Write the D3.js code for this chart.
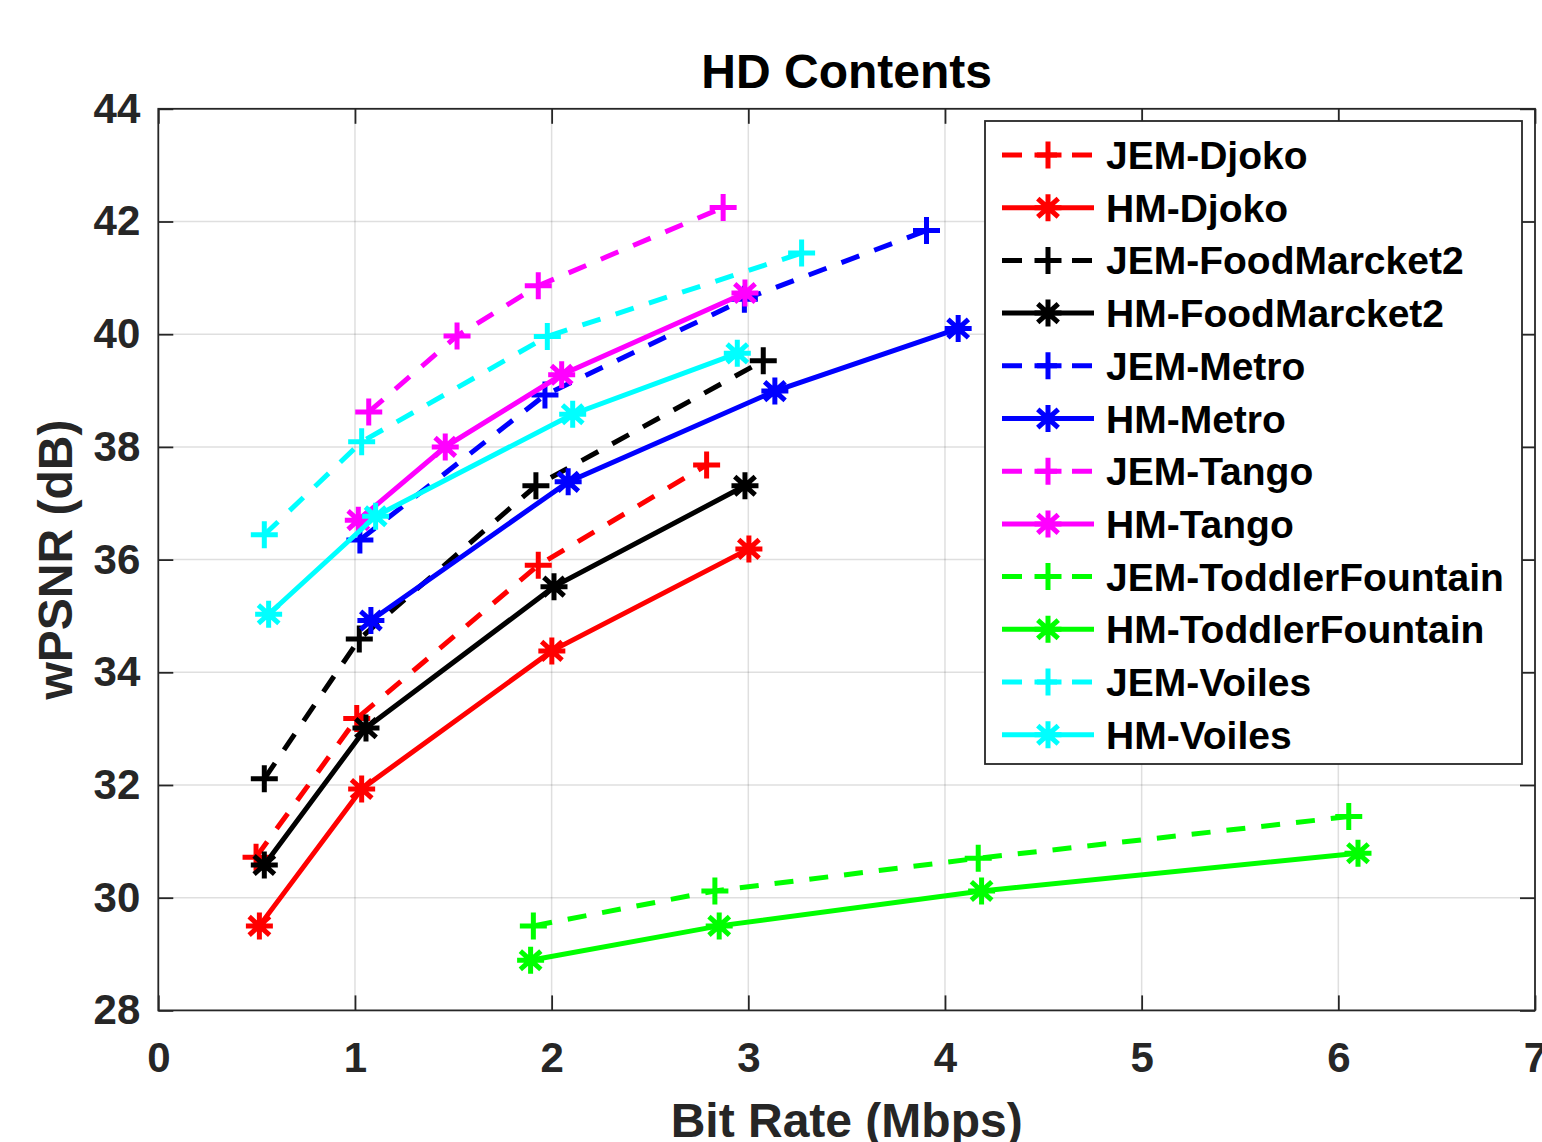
<!DOCTYPE html>
<html>
<head>
<meta charset="utf-8">
<script src="https://cdn.jsdelivr.net/npm/d3@7"></script>
<style>
  html, body { margin: 0; padding: 0; background: #fff; }
  svg { display: block; }
  text { font-family: "Liberation Sans", Arial, Helvetica, sans-serif; font-weight: bold; }
</style>
</head>
<body>
<svg id="chart" width="1542" height="1142"></svg>
<script>
// ---------------- DATA ----------------
const chartTitle = "HD Contents";
const xLabel = "Bit Rate (Mbps)";
const yLabel = "wPSNR (dB)";
const xTicks = [0, 1, 2, 3, 4, 5, 6, 7];
const yTicks = [28, 30, 32, 34, 36, 38, 40, 42, 44];

const seriesNames = [
  "JEM-Djoko", "HM-Djoko", "JEM-FoodMarcket2", "HM-FoodMarcket2",
  "JEM-Metro", "HM-Metro", "JEM-Tango", "HM-Tango",
  "JEM-ToddlerFountain", "HM-ToddlerFountain", "JEM-Voiles", "HM-Voiles"
];

const rateJEMDjoko = [0.497, 1.009, 1.932, 2.788];
const psnrJEMDjoko = [30.72, 33.18, 35.90, 37.68];
const rateHMDjoko = [0.514, 1.034, 2.001, 3.003];
const psnrHMDjoko = [29.50, 31.93, 34.38, 36.19];

const rateJEMFood = [0.539, 1.022, 1.920, 3.076];
const psnrJEMFood = [32.11, 34.59, 37.31, 39.53];
const rateHMFood = [0.539, 1.056, 2.012, 2.983];
const psnrHMFood = [30.58, 33.01, 35.52, 37.31];

const rateJEMMetro = [1.025, 1.966, 2.980, 3.906];
const psnrJEMMetro = [36.35, 38.92, 40.62, 41.84];
const rateHMMetro = [1.081, 2.084, 3.135, 4.067];
const psnrHMMetro = [34.92, 37.38, 38.99, 40.10];

const rateJEMTango = [1.070, 1.519, 1.932, 2.872];
const psnrJEMTango = [38.62, 39.97, 40.86, 42.25];
const rateHMTango = [1.017, 1.459, 2.051, 2.983];
const psnrHMTango = [36.70, 38.00, 39.28, 40.73];

const rateJEMToddler = [1.907, 2.830, 4.169, 6.053];
const psnrJEMToddler = [29.50, 30.12, 30.70, 31.44];
const rateHMToddler = [1.893, 2.852, 4.186, 6.100];
const psnrHMToddler = [28.89, 29.50, 30.12, 30.79];

const rateJEMVoiles = [0.539, 1.034, 1.978, 3.271];
const psnrJEMVoiles = [36.44, 38.09, 39.96, 41.44];
const rateHMVoiles = [0.561, 1.105, 2.107, 2.944];
const psnrHMVoiles = [35.03, 36.77, 38.58, 39.66];

const seriesRates = [rateJEMDjoko, rateHMDjoko, rateJEMFood, rateHMFood, rateJEMMetro, rateHMMetro,
                     rateJEMTango, rateHMTango, rateJEMToddler, rateHMToddler, rateJEMVoiles, rateHMVoiles];
const seriesPsnrs = [psnrJEMDjoko, psnrHMDjoko, psnrJEMFood, psnrHMFood, psnrJEMMetro, psnrHMMetro,
                     psnrJEMTango, psnrHMTango, psnrJEMToddler, psnrHMToddler, psnrJEMVoiles, psnrHMVoiles];

// ---------------- STYLE ----------------
const seriesColors = ["#ff0000", "#ff0000", "#000000", "#000000", "#0000ff", "#0000ff",
                      "#ff00ff", "#ff00ff", "#00ff00", "#00ff00", "#00ffff", "#00ffff"];
const seriesDashed = [true, false, true, false, true, false, true, false, true, false, true, false];
const seriesMarker = ["plus", "star", "plus", "star", "plus", "star", "plus", "star", "plus", "star", "plus", "star"];

const axisColor = "#262626";
const lineW = 5;
const dashPat = "19,16";
const mSize = 13.5;

// ---------------- LAYOUT ----------------
const plot = { left: 158.3, right: 1535, top: 108.8, bottom: 1010.4 };
const svg = d3.select("#chart");

const x = d3.scaleLinear().domain([0, 7]).range([plot.left, plot.right]);
const y = d3.scaleLinear().domain([28, 44]).range([plot.bottom, plot.top]);

// grid
const grid = svg.append("g");
grid.selectAll(".gx").data(xTicks.slice(1, -1)).enter().append("line")
  .attr("x1", d => x(d)).attr("x2", d => x(d))
  .attr("y1", plot.top).attr("y2", plot.bottom)
  .attr("stroke", axisColor).attr("stroke-opacity", 0.15).attr("stroke-width", 1.5);
grid.selectAll(".gy").data(yTicks.slice(1, -1)).enter().append("line")
  .attr("y1", d => y(d)).attr("y2", d => y(d))
  .attr("x1", plot.left).attr("x2", plot.right)
  .attr("stroke", axisColor).attr("stroke-opacity", 0.15).attr("stroke-width", 1.5);

// axes (bottom and left with labels, top and right mirror ticks)
const tickLen = 15;
const xAxisB = d3.axisBottom(x).tickValues(xTicks).tickSizeInner(-tickLen).tickSizeOuter(0).tickPadding(32).tickFormat(d3.format("d"));
const xAxisT = d3.axisTop(x).tickValues(xTicks).tickSizeInner(-tickLen).tickSizeOuter(0).tickFormat("");
const yAxisL = d3.axisLeft(y).tickValues(yTicks).tickSizeInner(-tickLen).tickSizeOuter(0).tickPadding(18).tickFormat(d3.format("d"));
const yAxisR = d3.axisRight(y).tickValues(yTicks).tickSizeInner(-tickLen).tickSizeOuter(0).tickFormat("");

function styleAxis(g) {
  g.select(".domain").remove();
  g.selectAll(".tick line").attr("stroke", axisColor).attr("stroke-width", 1.8);
  g.selectAll(".tick text").attr("fill", axisColor)
    .style("font-size", "42px").style("font-weight", "bold")
    .style("font-family", '"Liberation Sans", Arial, Helvetica, sans-serif');
}
svg.append("g").attr("transform", `translate(0,${plot.bottom})`).call(xAxisB).call(styleAxis);
svg.append("g").attr("transform", `translate(0,${plot.top})`).call(xAxisT).call(styleAxis);
svg.append("g").attr("transform", `translate(${plot.left},0)`).call(yAxisL).call(styleAxis);
svg.append("g").attr("transform", `translate(${plot.right},0)`).call(yAxisR).call(styleAxis);

// axes box
svg.append("rect").attr("x", plot.left).attr("y", plot.top)
  .attr("width", plot.right - plot.left).attr("height", plot.bottom - plot.top)
  .attr("fill", "none").attr("stroke", axisColor).attr("stroke-width", 1.8);

// axis titles
svg.append("text").attr("x", (plot.left + plot.right) / 2).attr("y", 88)
  .attr("text-anchor", "middle").style("font-size", "48px").attr("fill", "#000").text(chartTitle);
svg.append("text").attr("x", (plot.left + plot.right) / 2).attr("y", 1137)
  .attr("text-anchor", "middle").style("font-size", "48px").attr("fill", axisColor).text(xLabel);
svg.append("text").attr("transform", `translate(72,${(plot.top + plot.bottom) / 2}) rotate(-90)`)
  .attr("text-anchor", "middle").style("font-size", "48px").attr("fill", axisColor).text(yLabel);

// markers
function markerPath(type, s) {
  const p = d3.path();
  p.moveTo(-s, 0); p.lineTo(s, 0);
  p.moveTo(0, -s); p.lineTo(0, s);
  if (type === "star") {
    const dx = s * 0.76, dy = s * 0.68;
    p.moveTo(-dx, -dy); p.lineTo(dx, dy);
    p.moveTo(-dx, dy); p.lineTo(dx, -dy);
  }
  return p.toString();
}

const line = d3.line().x(d => x(d[0])).y(d => y(d[1]));

const seriesG = svg.append("g");
seriesNames.forEach((name, i) => {
  const pts = d3.zip(seriesRates[i], seriesPsnrs[i]);
  const g = seriesG.append("g");
  g.append("path").datum(pts).attr("d", line)
    .attr("fill", "none").attr("stroke", seriesColors[i]).attr("stroke-width", lineW)
    .attr("stroke-dasharray", seriesDashed[i] ? dashPat : null);
  g.selectAll(".m").data(pts).enter().append("path")
    .attr("transform", d => `translate(${x(d[0])},${y(d[1])})`)
    .attr("d", markerPath(seriesMarker[i], mSize))
    .attr("fill", "none").attr("stroke", seriesColors[i]).attr("stroke-width", 5);
});

// legend
const leg = { x0: 985, y0: 121, x1: 1522, y1: 764, row0: 155, rowH: 52.7 };
const lg = svg.append("g");
lg.append("rect").attr("x", leg.x0).attr("y", leg.y0)
  .attr("width", leg.x1 - leg.x0).attr("height", leg.y1 - leg.y0)
  .attr("fill", "#fff").attr("stroke", axisColor).attr("stroke-width", 1.8);
seriesNames.forEach((name, i) => {
  const cy = leg.row0 + i * leg.rowH;
  lg.append("line").attr("x1", 1002).attr("x2", 1094).attr("y1", cy).attr("y2", cy)
    .attr("stroke", seriesColors[i]).attr("stroke-width", lineW)
    .attr("stroke-dasharray", seriesDashed[i] ? "20,15" : null);
  lg.append("path").attr("transform", `translate(1048,${cy})`)
    .attr("d", markerPath(seriesMarker[i], mSize))
    .attr("fill", "none").attr("stroke", seriesColors[i]).attr("stroke-width", 5);
  lg.append("text").attr("x", 1106).attr("y", cy + 14)
    .style("font-size", "39px").attr("fill", "#000").text(name);
});
</script>
</body>
</html>
